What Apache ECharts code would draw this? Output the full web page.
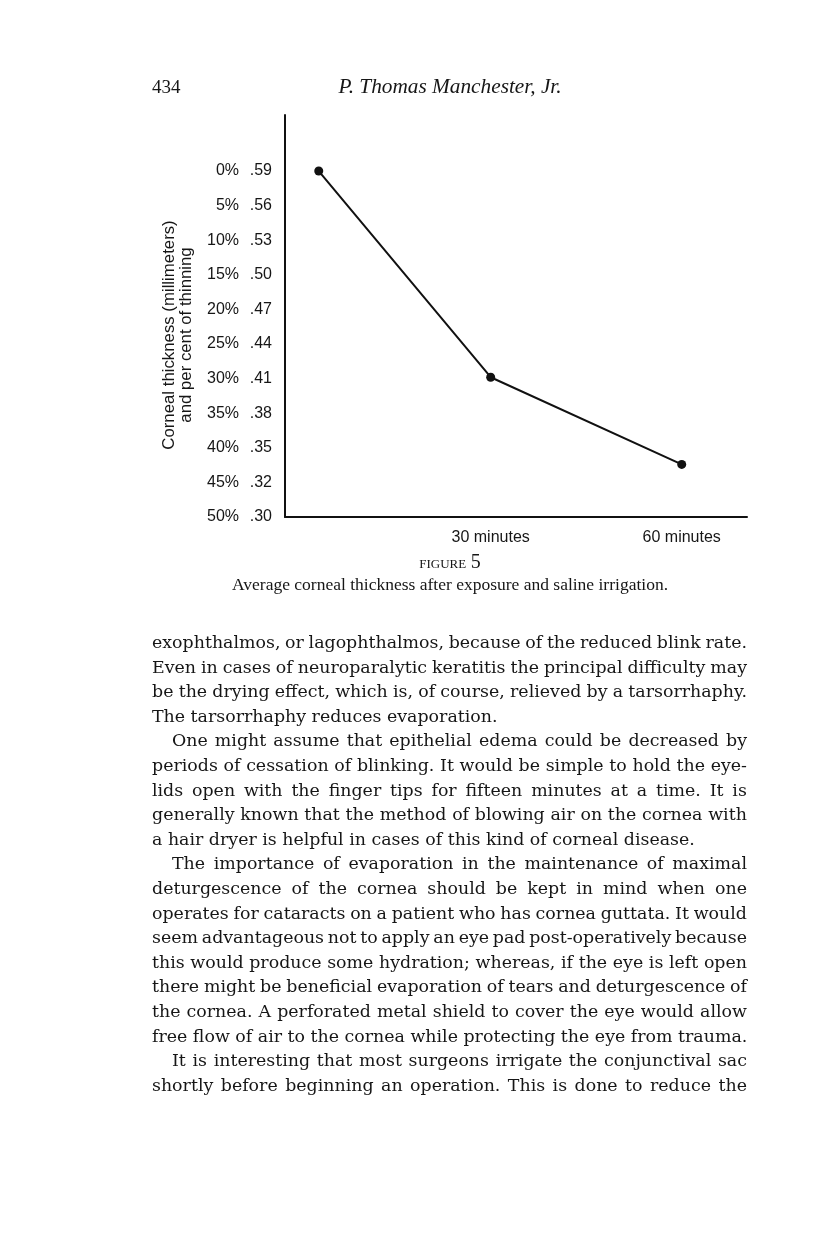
<!DOCTYPE html>
<html>
<head>
<meta charset="utf-8">
<script src="https://cdn.jsdelivr.net/npm/echarts@6/dist/echarts.min.js"></script>
<style>
  html, body { margin: 0; padding: 0; background: #fff; }
  #page { position: relative; width: 816px; height: 1246px; overflow: hidden; color: #161616; }
  #chart { position: absolute; left: 0; top: 0; width: 816px; height: 1246px; }
  .serif { font-family: "Liberation Serif", "DejaVu Serif", serif; }
  .abs { position: absolute; white-space: nowrap; }
  .line { position: absolute; height: 24px; line-height: 24px; font-size: 17.4px; white-space: nowrap;
          font-family: "DejaVu Serif", "Liberation Serif", serif; }
  .line.just { display: flex; justify-content: space-between; }
</style>
</head>
<body>
<div id="page">
  <div id="chart"></div>
  <div class="abs serif" style="left:152px; top:76px; font-size:19px;">434</div>
  <div class="abs serif" style="left:250px; width:400px; top:74px; font-size:21.3px; font-style:italic; text-align:center;">P. Thomas Manchester, Jr.</div>
  <div class="abs serif" style="left:250px; width:400px; top:550px; font-size:18px; text-align:center; font-variant:small-caps;">figure <span style="font-size:20px;">5</span></div>
  <div class="abs serif" style="left:200px; width:500px; top:574px; font-size:17.5px; text-align:center;">Average corneal thickness after exposure and saline irrigation.</div>
  <div id="body"></div>
</div>
<script>
// percent thinning ticks and the matching thickness (mm) labels
const thinningTicks = [0, 5, 10, 15, 20, 25, 30, 35, 40, 45, 50]
const thicknessLabels = ['.59', '.56', '.53', '.50', '.47', '.44', '.41', '.38', '.35', '.32', '.30']

// measured points: minutes after exposure vs per cent of thinning
const minutes = [3, 30, 60]
const thinningPct = [0, 29.8, 42.4]
const minuteTicks = [30, 60]

const yTitle = 'Corneal thickness (millimeters)\nand per cent of thinning'

// page text, one entry per printed line
const paragraphs = [
  { indent: false, lines: [
    'exophthalmos, or lagophthalmos, because of the reduced blink rate.',
    'Even in cases of neuroparalytic keratitis the principal difficulty may',
    'be the drying effect, which is, of course, relieved by a tarsorrhaphy.',
    'The tarsorrhaphy reduces evaporation.',
  ] },
  { indent: true, lines: [
    'One might assume that epithelial edema could be decreased by',
    'periods of cessation of blinking. It would be simple to hold the eye-',
    'lids open with the finger tips for fifteen minutes at a time. It is',
    'generally known that the method of blowing air on the cornea with',
    'a hair dryer is helpful in cases of this kind of corneal disease.',
  ] },
  { indent: true, lines: [
    'The importance of evaporation in the maintenance of maximal',
    'deturgescence of the cornea should be kept in mind when one',
    'operates for cataracts on a patient who has cornea guttata. It would',
    'seem advantageous not to apply an eye pad post-operatively because',
    'this would produce some hydration; whereas, if the eye is left open',
    'there might be beneficial evaporation of tears and deturgescence of',
    'the cornea. A perforated metal shield to cover the eye would allow',
    'free flow of air to the cornea while protecting the eye from trauma.',
  ] },
  { indent: true, open: true, lines: [
    'It is interesting that most surgeons irrigate the conjunctival sac',
    'shortly before beginning an operation. This is done to reduce the',
  ] },
]

function layoutBody() {
  const host = document.getElementById('body')
  const left = 152, width = 595, first = 642, step = 24.6
  let row = 0
  paragraphs.forEach((para) => {
    para.lines.forEach((text, i) => {
      const el = document.createElement('div')
      el.className = 'line'
      const ind = para.indent && i === 0 ? 20 : 0
      const isLast = i === para.lines.length - 1 && !para.open
      el.style.left = (left + ind) + 'px'
      el.style.top = (first + row * step - 12) + 'px'
      if (isLast) {
        el.textContent = text
      } else {
        el.classList.add('just')
        el.style.width = (width - ind) + 'px'
        text.split(' ').forEach((w) => {
          const s = document.createElement('span')
          s.textContent = w
          el.appendChild(s)
        })
      }
      host.appendChild(el)
      // squeeze a line a little if the font runs wider than the measure,
      // keeping a few pixels per word gap in justified lines
      const room = (width - ind) - (isLast ? 0 : (text.split(' ').length - 1) * 3.5)
      const natural = () => isLast ? el.scrollWidth
        : Array.from(el.children).reduce((a, s) => a + s.getBoundingClientRect().width, 0)
      let ls = 0
      while (natural() > room && ls > -1.5) {
        ls -= 0.05
        el.style.letterSpacing = ls.toFixed(2) + 'px'
      }
      row++
    })
  })
}
layoutBody()

const chart = echarts.init(document.getElementById('chart'))

const axisFont = { fontFamily: 'Liberation Sans, Arial, sans-serif', fontSize: 16, color: '#161616' }

chart.setOption({
  animation: false,
  grid: { left: 285, top: 115, width: 462, height: 402, containLabel: false, outerBoundsMode: 'none' },
  xAxis: {
    type: 'value',
    min: -2.3,
    max: 70.25,
    axisLine: { onZero: false, lineStyle: { color: '#111', width: 2 } },
    axisTick: { show: false },
    splitLine: { show: false },
    axisLabel: {
      ...axisFont,
      margin: 13,
      customValues: minuteTicks,
      formatter: (v) => `${v} minutes`,
    },
  },
  yAxis: {
    type: 'value',
    inverse: true,
    min: -8.1,
    max: 50,
    axisLine: { show: true, onZero: false, lineStyle: { color: '#111', width: 2 } },
    axisTick: { show: false },
    splitLine: { show: false },
    axisLabel: {
      margin: 13,
      customValues: thinningTicks,
      formatter: (v) => {
        const i = thinningTicks.indexOf(v)
        return `{p|${v}%}{m|${thicknessLabels[i]}}`
      },
      rich: {
        p: { ...axisFont, width: 36, align: 'right' },
        m: { ...axisFont, width: 33, align: 'right' },
      },
    },
  },
  graphic: [
    {
      type: 'text',
      x: 178,
      y: 335,
      rotation: Math.PI / 2,
      style: {
        text: yTitle,
        fontFamily: 'Liberation Sans, Arial, sans-serif',
        fontSize: 16.8,
        lineHeight: 17,
        fill: '#161616',
        align: 'center',
        verticalAlign: 'middle',
      },
    },
  ],
  series: [
    {
      type: 'line',
      data: minutes.map((m, i) => [m, thinningPct[i]]),
      symbol: 'circle',
      symbolSize: 9,
      showAllSymbol: true,
      itemStyle: { color: '#111' },
      lineStyle: { color: '#111', width: 2 },
    },
  ],
})
</script>
</body>
</html>
